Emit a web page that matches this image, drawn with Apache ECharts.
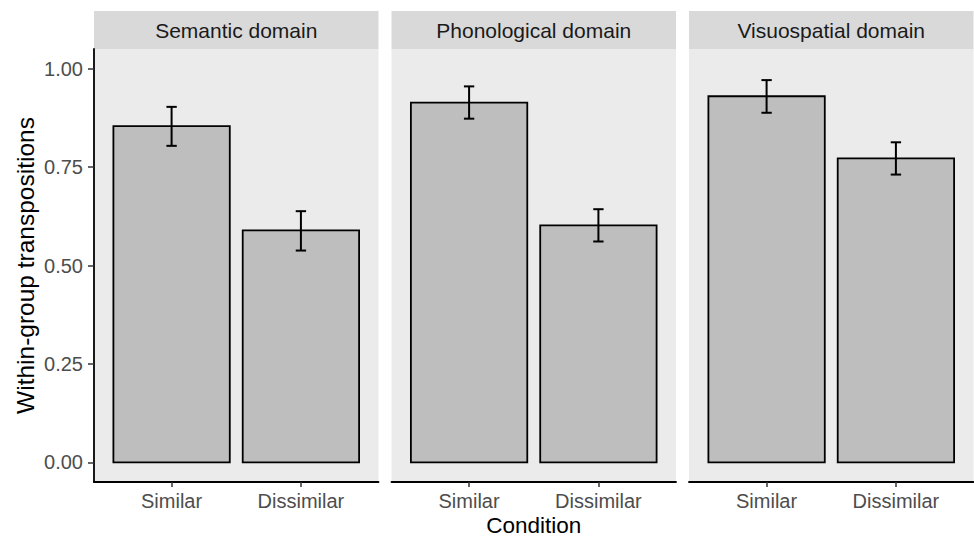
<!DOCTYPE html>
<html>
<head>
<meta charset="utf-8">
<script src="https://cdn.jsdelivr.net/npm/echarts@6/dist/echarts.min.js"></script>
<style>html,body{margin:0;padding:0;background:#fff;}#c{width:974px;height:537px;}</style>
</head>
<body>
<div id="c"></div>
<script>
var domains = ['Semantic domain', 'Phonological domain', 'Visuospatial domain'];
var conditions = ['Similar', 'Dissimilar'];
var meanSimilar = [0.854, 0.914, 0.930];
var meanDissimilar = [0.589, 0.602, 0.772];
var lowerSimilar = [0.804, 0.873, 0.888];
var upperSimilar = [0.903, 0.955, 0.971];
var lowerDissimilar = [0.538, 0.561, 0.731];
var upperDissimilar = [0.638, 0.643, 0.813];
var yTicks = [0, 0.25, 0.5, 0.75, 1];
var xTitle = 'Condition';
var yTitle = 'Within-group transpositions';

var FONT = '"Liberation Sans", Arial, sans-serif';
var panelLeft = [94, 391.5, 689];
var panelW = 284.5, panelTop = 49, panelH = 433;
var stripTop = 11, stripH = 38;

var chart = echarts.init(document.getElementById('c'), null, {renderer: 'svg'});
var grids = [], xAxes = [], yAxes = [], series = [], graphics = [];

domains.forEach(function (d, i) {
  grids.push({left: panelLeft[i], top: panelTop, width: panelW, height: panelH,
    show: true, backgroundColor: '#EBEBEB', borderWidth: 0, containLabel: false, outerBoundsMode: 'none'});
  xAxes.push({
    gridIndex: i, type: 'value', min: 0.4, max: 2.6,
    axisLine: {show: true, onZero: false, lineStyle: {color: '#000', width: 1.8}},
    axisTick: {show: true, customValues: [1, 2], length: 5, lineStyle: {color: '#333', width: 1.5}},
    axisLabel: {show: true, customValues: [1, 2], margin: 9, color: '#4D4D4D', fontSize: 20, fontFamily: FONT,
      formatter: function (v) { return conditions[Math.round(v) - 1]; }},
    splitLine: {show: false},
    name: i === 1 ? xTitle : '', nameLocation: 'middle', nameGap: 32, nameMoveOverlap: false,
    nameTextStyle: {color: '#000', fontSize: 22.5, lineHeight: 23, fontFamily: FONT}
  });
  yAxes.push({
    gridIndex: i, type: 'value', min: -0.05, max: 1.05,
    axisLine: {show: i === 0, onZero: false, lineStyle: {color: '#000', width: 1.8}},
    axisTick: {show: i === 0, customValues: yTicks, length: 6, lineStyle: {color: '#333', width: 1.5}},
    axisLabel: {show: i === 0, customValues: yTicks, margin: 11, color: '#4D4D4D', fontSize: 20, fontFamily: FONT,
      formatter: function (v) { return v.toFixed(2); }},
    splitLine: {show: false},
    name: i === 0 ? yTitle : '', nameLocation: 'middle', nameGap: 56, nameMoveOverlap: false,
    nameTextStyle: {color: '#000', fontSize: 24.5, fontFamily: FONT}
  });
  var means = [meanSimilar[i], meanDissimilar[i]];
  var lows = [lowerSimilar[i], lowerDissimilar[i]];
  var highs = [upperSimilar[i], upperDissimilar[i]];
  series.push({
    type: 'custom', xAxisIndex: i, yAxisIndex: i,
    data: means.map(function (m, k) { return [k + 1, m]; }),
    renderItem: function (params, api) {
      var x = api.value(0), v = api.value(1);
      var p0 = api.coord([x - 0.45, 0]);
      var p1 = api.coord([x + 0.45, v]);
      return {type: 'rect',
        shape: {x: p0[0], y: p1[1], width: p1[0] - p0[0], height: p0[1] - p1[1]},
        style: {fill: '#BEBEBE', stroke: '#000', lineWidth: 1.8}};
    }
  });
  series.push({
    type: 'custom', xAxisIndex: i, yAxisIndex: i, z: 3,
    data: means.map(function (m, k) { return [k + 1, lows[k], highs[k]]; }),
    renderItem: function (params, api) {
      var x = api.value(0);
      var lo = api.coord([x, api.value(1)]);
      var hi = api.coord([x, api.value(2)]);
      var capL = api.coord([x - 0.04, 0])[0];
      var capR = api.coord([x + 0.04, 0])[0];
      var st = {stroke: '#000', lineWidth: 2};
      return {type: 'group', children: [
        {type: 'line', shape: {x1: lo[0], y1: lo[1], x2: hi[0], y2: hi[1]}, style: st},
        {type: 'line', shape: {x1: capL, y1: lo[1], x2: capR, y2: lo[1]}, style: st},
        {type: 'line', shape: {x1: capL, y1: hi[1], x2: capR, y2: hi[1]}, style: st}
      ]};
    }
  });
  graphics.push({
    type: 'group', left: panelLeft[i], top: stripTop,
    children: [
      {type: 'rect', shape: {x: 0, y: 0, width: panelW, height: stripH}, style: {fill: '#D9D9D9'}},
      {type: 'text', x: panelW / 2, y: stripH / 2,
        style: {text: d, fill: '#1A1A1A', fontSize: 21, fontFamily: FONT, align: 'center', verticalAlign: 'middle'}}
    ]
  });
});

chart.setOption({
  animation: false,
  backgroundColor: '#fff',
  grid: grids, xAxis: xAxes, yAxis: yAxes, series: series, graphic: graphics
});
</script>
</body>
</html>
